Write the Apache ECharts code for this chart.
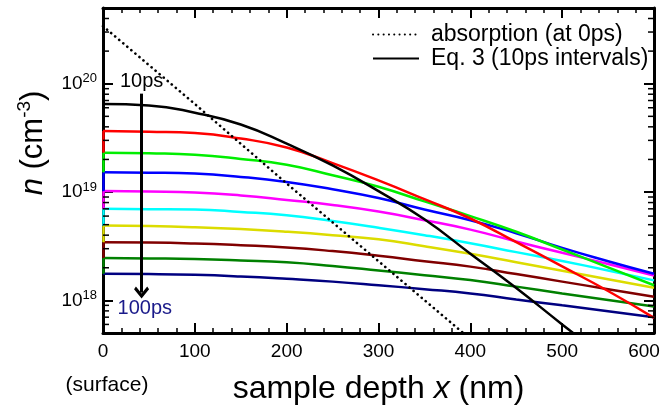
<!DOCTYPE html>
<html>
<head>
<meta charset="utf-8">
<script src="https://cdn.jsdelivr.net/npm/echarts@6/dist/echarts.min.js"></script>
<style>
html, body { margin: 0; padding: 0; background: #fff; }
#chart { width: 671px; height: 410px; }
</style>
</head>
<body>
<div id="chart"></div>
<script>
// depth in nm, carrier density n in cm^-3
var depth = [0, 50, 100, 150, 200, 250, 300, 350, 400, 450, 500, 550, 600];
var n10  = [6.5e19, 6.3e19, 5.4e19, 4.2e19, 2.8e19, 1.76e19, 1.02e19, 5.6e18, 2.7e18, 1.3e18, 6.0e17, 2.8e17, null];
var n20  = [3.66e19, 3.6e19, 3.5e19, 3.12e19, 2.58e19, 1.85e19, 1.28e19, 8.6e18, 5.7e18, 3.45e18, 2.06e18, 1.22e18, 6.9e17];
var n30  = [2.31e19, 2.28e19, 2.21e19, 2.02e19, 1.79e19, 1.43e19, 1.12e19, 8.2e18, 6.0e18, 4.3e18, 2.95e18, 2.02e18, 1.38e18];
var n40  = [1.52e19, 1.51e19, 1.48e19, 1.38e19, 1.24e19, 1.06e19, 8.8e18, 6.9e18, 5.5e18, 4.17e18, 3.05e18, 2.3e18, 1.76e18];
var n50  = [1.02e19, 1.01e19, 9.9e18, 9.3e18, 8.45e18, 7.6e18, 6.6e18, 5.5e18, 4.5e18, 3.5e18, 2.75e18, 2.17e18, 1.7e18];
var n60  = [7.0e18, 6.95e18, 6.9e18, 6.55e18, 6.1e18, 5.4e18, 4.68e18, 4.0e18, 3.37e18, 2.79e18, 2.31e18, 1.89e18, 1.53e18];
var n70  = [4.9e18, 4.85e18, 4.73e18, 4.55e18, 4.3e18, 4.0e18, 3.66e18, 3.16e18, 2.69e18, 2.25e18, 1.88e18, 1.57e18, 1.31e18];
var n80  = [3.44e18, 3.42e18, 3.35e18, 3.23e18, 3.08e18, 2.85e18, 2.58e18, 2.3e18, 2.05e18, 1.75e18, 1.49e18, 1.27e18, 1.08e18];
var n90  = [2.46e18, 2.44e18, 2.41e18, 2.34e18, 2.25e18, 2.08e18, 1.89e18, 1.71e18, 1.54e18, 1.34e18, 1.16e18, 1.01e18, 8.8e17];
var n100 = [1.76e18, 1.75e18, 1.72e18, 1.66e18, 1.58e18, 1.49e18, 1.38e18, 1.27e18, 1.16e18, 1.02e18, 9.0e17, 7.95e17, 7.0e17];
// level at the surface where each curve's short edge segment ends
var edgeLow = [null, 2.31e19, 1.52e19, 1.02e19, 7.0e18, 4.9e18, 3.44e18, 2.46e18, 1.76e18, null];

var absDepth = [0, 100, 200, 300, 400];
var absN = [3.4e20, 6.5e19, 1.2e19, 2.3e18, 4.4e17];

var curveNames = ['Eq. 3 (10ps intervals)', '20ps', '30ps', '40ps', '50ps', '60ps', '70ps', '80ps', '90ps', '100ps'];
var curveColors = ['#000000', '#ff0000', '#00ee00', '#0000ff', '#ff00ff', '#00ffff', '#dcdc00', '#800000', '#008000', '#000080'];
var curves = [n10, n20, n30, n40, n50, n60, n70, n80, n90, n100];

var yDecades = [1e18, 1e19, 1e20];

// arrow annotation (data coords)
var arrowX = 42, arrowTop = 8.1e19, arrowEnd = 1.18e18;

var FONT = '"Liberation Sans", Arial, sans-serif';
var chart = echarts.init(document.getElementById('chart'));

var series = [];
for (var i = curves.length - 1; i >= 0; i--) {
	var d = [];
	for (var j = 0; j < depth.length; j++) {
		if (curves[i][j] != null) d.push([depth[j], curves[i][j]]);
	}
	var s = {
		name: curveNames[i],
		type: 'line',
		data: d,
		symbol: 'none',
		smooth: 0.5,
		lineStyle: { color: curveColors[i], width: 2.5 },
		itemStyle: { color: curveColors[i] },
		z: 3
	};
	if (edgeLow[i] != null) {
		s.markLine = {
			silent: true, symbol: 'none', label: { show: false },
			lineStyle: { color: curveColors[i], width: 2.5, type: 'solid' },
			data: [[{ coord: [0, curves[i][0]] }, { coord: [0, edgeLow[i]] }]]
		};
	}
	if (i == 0) {
		s.z = 4;
		s.markLine = {
			silent: true,
			symbol: ['none', 'path://M0,9 L10,0 L20,9 L17.5,11.5 L10,4.8 L2.5,11.5 Z'],
			symbolSize: [15, 12],
			lineStyle: { color: '#000', width: 3, type: 'solid' },
			label: { show: false },
			data: [[{ coord: [arrowX, arrowTop] }, { coord: [arrowX, arrowEnd] }]]
		};
		s.markPoint = {
			silent: true,
			symbol: 'circle',
			symbolSize: 0,
			label: { show: true, position: 'inside', formatter: '{b}', fontSize: 20, fontFamily: FONT },
			data: [
				{ name: '10ps', coord: [42, 1.04e20], label: { color: '#000' } },
				{ name: '100ps', coord: [45.5, 8.45e17], label: { color: '#1a1a8a' } }
			]
		};
	}
	series.push(s);
}
var absData = [];
for (var k = 0; k < absDepth.length; k++) absData.push([absDepth[k], absN[k]]);
series.push({
	name: 'absorption (at 0ps)',
	type: 'line',
	data: absData,
	symbol: 'none',
	lineStyle: { color: '#000', width: 2.6, type: [0.1, 5.2], cap: 'round' },
	itemStyle: { color: '#000' },
	z: 5
});

function yLabel(v) {
	for (var i = 0; i < yDecades.length; i++) {
		if (Math.abs(v - yDecades[i]) / yDecades[i] < 1e-6) {
			return '{b|10}{s|' + Math.round(Math.log(yDecades[i]) / Math.LN10) + '}';
		}
	}
	return '';
}

var xAxisBase = {
	type: 'value', min: 0, max: 600, interval: 100,
	axisLine: { show: true, onZero: false, lineStyle: { color: '#000', width: 3 } },
	axisTick: { show: true, inside: true, length: 10, lineStyle: { color: '#000', width: 2 } },
	minorTick: { show: true, splitNumber: 5, length: 5, lineStyle: { color: '#000', width: 1.5 } },
	splitLine: { show: false }
};
var yAxisBase = {
	type: 'log', logBase: 10, min: 5e17, max: 5e20,
	axisLine: { show: true, onZero: false, lineStyle: { color: '#000', width: 3 } },
	axisTick: { show: true, inside: true, length: 10, lineStyle: { color: '#000', width: 2 } },
	splitLine: { show: false }
};

var option = {
	animation: false,
	backgroundColor: '#fff',
	grid: { left: 103, right: 17, top: 8, bottom: 72, containLabel: false },
	legend: {
		data: ['absorption (at 0ps)', 'Eq. 3 (10ps intervals)'],
		orient: 'vertical',
		left: 372, top: 23, padding: 0,
		itemWidth: 46, itemHeight: 14, itemGap: 1,
		itemStyle: { opacity: 0 },
		textStyle: { fontSize: 23, fontFamily: FONT, color: '#000', padding: [0, 0, 0, 7] },
		selectedMode: false
	},
	xAxis: [
		echarts.util.merge({
			position: 'bottom',
			axisLabel: {
				fontSize: 19, fontFamily: FONT, color: '#000', margin: 9,
				formatter: function (v) { return v === 600 ? '{r|600}' : String(v); },
				rich: { r: { fontSize: 19, fontFamily: FONT, color: '#000', padding: [0, 20, 0, 0] } }
			},
			name: '{a|sample depth }{i|x}{a| (nm)}',
			nameLocation: 'middle', nameGap: 40,
			nameTextStyle: {
				rich: {
					a: { fontSize: 32, fontFamily: FONT, color: '#000' },
					i: { fontSize: 32, fontFamily: FONT, color: '#000', fontStyle: 'italic' }
				}
			}
		}, xAxisBase, true),
		echarts.util.merge({ position: 'top', axisLabel: { show: false } }, xAxisBase, true)
	],
	yAxis: [
		echarts.util.merge({
			position: 'left',
			axisLabel: {
				margin: 6, formatter: yLabel,
				rich: {
					b: { fontSize: 19, fontFamily: FONT, color: '#000' },
					s: { fontSize: 13, fontFamily: FONT, color: '#000', verticalAlign: 'bottom', padding: [0, 0, 10, 0] }
				}
			}
		}, yAxisBase, true),
		echarts.util.merge({ position: 'right', axisLabel: { show: false } }, yAxisBase, true)
	],
	graphic: [
		{
			type: 'text', x: 33, y: 143, rotation: Math.PI / 2,
			style: {
				text: '{i|n}{a| (cm}{s|-3}{a|)}',
				align: 'center', verticalAlign: 'middle',
				rich: {
					i: { fontSize: 31, fontFamily: FONT, fill: '#000', fontStyle: 'italic' },
					a: { fontSize: 31, fontFamily: FONT, fill: '#000' },
					s: { fontSize: 19, fontFamily: FONT, fill: '#000', verticalAlign: 'bottom', padding: [0, 0, 16, 0] }
				}
			}
		},
		{
			type: 'text', x: 107, y: 385,
			style: { text: '(surface)', align: 'center', verticalAlign: 'middle', fontSize: 21, fontFamily: FONT, fill: '#000' }
		}
	],
	series: series
};
chart.setOption(option);

// log minor ticks (2..9 x 10^n) on left and right frame
var x0 = chart.convertToPixel({ xAxisIndex: 0 }, 0);
var x1 = chart.convertToPixel({ xAxisIndex: 0 }, 600);
var minor = [];
for (var e = 17; e <= 20; e++) {
	for (var m = 2; m <= 9; m++) {
		var v = m * Math.pow(10, e);
		if (v > 5e17 && v < 5e20) {
			var y = chart.convertToPixel({ yAxisIndex: 0 }, v);
			minor.push({ type: 'line', silent: true, z: 10, shape: { x1: x0, y1: y, x2: x0 + 6, y2: y }, style: { stroke: '#000', lineWidth: 1.5 } });
			minor.push({ type: 'line', silent: true, z: 10, shape: { x1: x1 - 6, y1: y, x2: x1, y2: y }, style: { stroke: '#000', lineWidth: 1.5 } });
		}
	}
}
chart.setOption({ graphic: option.graphic.concat(minor) });
</script>
</body>
</html>
